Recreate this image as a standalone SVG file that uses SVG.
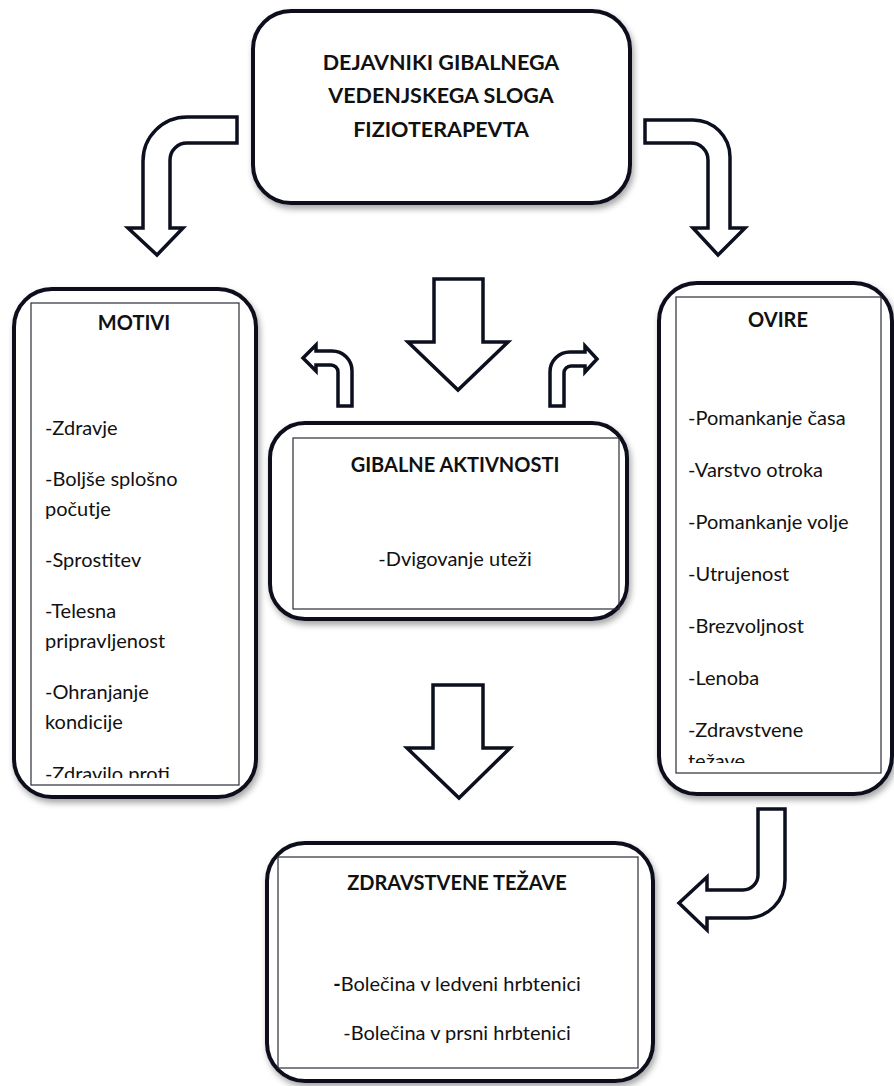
<svg xmlns="http://www.w3.org/2000/svg" width="894" height="1086" viewBox="0 0 894 1086">
<style>
.box{fill:#fff;stroke:#0b0f1e;stroke-width:4;filter:url(#sh)}
.inner{fill:none;stroke:#2a2d38;stroke-width:1.2}
.arrow{fill:#fff;stroke:#0b0f1e;stroke-width:3.5;stroke-linejoin:miter}
.t{font-family:Lato,"Liberation Sans",sans-serif;font-size:20px;fill:#111}
.b{font-family:Lato,"Liberation Sans",sans-serif;font-size:20px;font-weight:bold;fill:#111}
.bt{font-size:21.5px}
</style>
<defs>
<filter id="sh" x="-10%" y="-10%" width="125%" height="125%">
<feDropShadow dx="2" dy="4" stdDeviation="3" flood-color="#000" flood-opacity="0.35"/>
</filter>
<clipPath id="clipL"><rect x="31" y="303" width="208" height="475"/></clipPath>
<clipPath id="clipR"><rect x="676" y="297" width="205" height="466"/></clipPath>
</defs>
<rect width="894" height="1086" fill="#fff"/>

<g id="connectors">
<path class="arrow" d="M237,117 L187,117 A44,44 0 0 0 143,161 L143,228 L128,228 L157,255 L183,228 L170,228 L170,160 A17,17 0 0 1 187,143 L237,143 Z"/>
<path class="arrow" d="M645,120 L693,120 A37,37 0 0 1 730,157 L730,228 L745,228 L718,255 L693,228 L708,228 L708,160 A17,17 0 0 0 691,143 L645,143 Z"/>
<path class="arrow" d="M434,279 L483,279 L483,342 L508,342 L458,390 L408,342 L434,342 Z"/>
<path class="arrow" d="M352,406 L352,371 A20,20 0 0 0 332,351 L316,351 L316,345 L303,358 L316,371 L316,365 L331,365 A7,7 0 0 1 338,372 L338,406 Z"/>
<path class="arrow" d="M550,406 L550,372 A20,20 0 0 1 570,352 L585,352 L585,346 L597,359 L585,372 L585,366 L571,366 A7,7 0 0 0 564,373 L564,406 Z"/>
<path class="arrow" d="M433,685 L483,685 L483,748 L510,748 L459,798 L407,748 L433,748 Z"/>
<path class="arrow" d="M758,809 L785,809 L785,880 A38,38 0 0 1 747,918 L707,918 L707,930 L679,903 L707,877 L707,890 L743,890 A15,15 0 0 0 758,875 Z"/>
</g>

<g id="node-top">
<rect class="box" x="253" y="11" width="377" height="192" rx="38"/>
<text class="b bt" x="441" y="70" text-anchor="middle">DEJAVNIKI GIBALNEGA</text>
<text class="b bt" x="441" y="103" text-anchor="middle">VEDENJSKEGA SLOGA</text>
<text class="b bt" x="441" y="137" text-anchor="middle">FIZIOTERAPEVTA</text>
</g>

<g id="node-motivi">
<rect class="box" x="14" y="289" width="242" height="508" rx="38"/>
<rect class="inner" x="31" y="303" width="208" height="482"/>
<text class="b" x="134" y="330" text-anchor="middle">MOTIVI</text>
<g clip-path="url(#clipL)">
<text class="t" x="45" y="435">-Zdravje</text>
<text class="t" x="45" y="486">-Boljše splošno</text>
<text class="t" x="45" y="516">počutje</text>
<text class="t" x="45" y="567">-Sprostitev</text>
<text class="t" x="45" y="618">-Telesna</text>
<text class="t" x="45" y="648">pripravljenost</text>
<text class="t" x="45" y="699">-Ohranjanje</text>
<text class="t" x="45" y="729">kondicije</text>
<text class="t" x="45" y="781">-Zdravilo proti</text>
</g>
</g>

<g id="node-ovire">
<rect class="box" x="659" y="283" width="233" height="511" rx="38"/>
<rect class="inner" x="676" y="297" width="205" height="476"/>
<text class="b" x="778" y="327" text-anchor="middle">OVIRE</text>
<g clip-path="url(#clipR)">
<text class="t" x="688" y="425">-Pomankanje časa</text>
<text class="t" x="688" y="477">-Varstvo otroka</text>
<text class="t" x="688" y="529">-Pomankanje volje</text>
<text class="t" x="688" y="581">-Utrujenost</text>
<text class="t" x="688" y="633">-Brezvoljnost</text>
<text class="t" x="688" y="685">-Lenoba</text>
<text class="t" x="688" y="737">-Zdravstvene</text>
<text class="t" x="688" y="768">težave</text>
</g>
</g>

<g id="node-gibalne">
<rect class="box" x="270" y="423" width="357" height="196" rx="35"/>
<rect class="inner" x="293" y="438" width="326" height="171"/>
<text class="b" x="455" y="472" text-anchor="middle">GIBALNE AKTIVNOSTI</text>
<text class="t" x="455" y="566" text-anchor="middle">-Dvigovanje uteži</text>
</g>

<g id="node-tezave">
<rect class="box" x="267" y="843" width="386" height="238" rx="38"/>
<rect class="inner" x="278" y="857" width="360" height="211"/>
<text class="b" x="457" y="890" text-anchor="middle">ZDRAVSTVENE TEŽAVE</text>
<text class="t" x="457" y="991" text-anchor="middle"><tspan font-weight="bold">-</tspan>Bolečina v ledveni hrbtenici</text>
<text class="t" x="457" y="1040" text-anchor="middle">-Bolečina v prsni hrbtenici</text>
</g>
</svg>
